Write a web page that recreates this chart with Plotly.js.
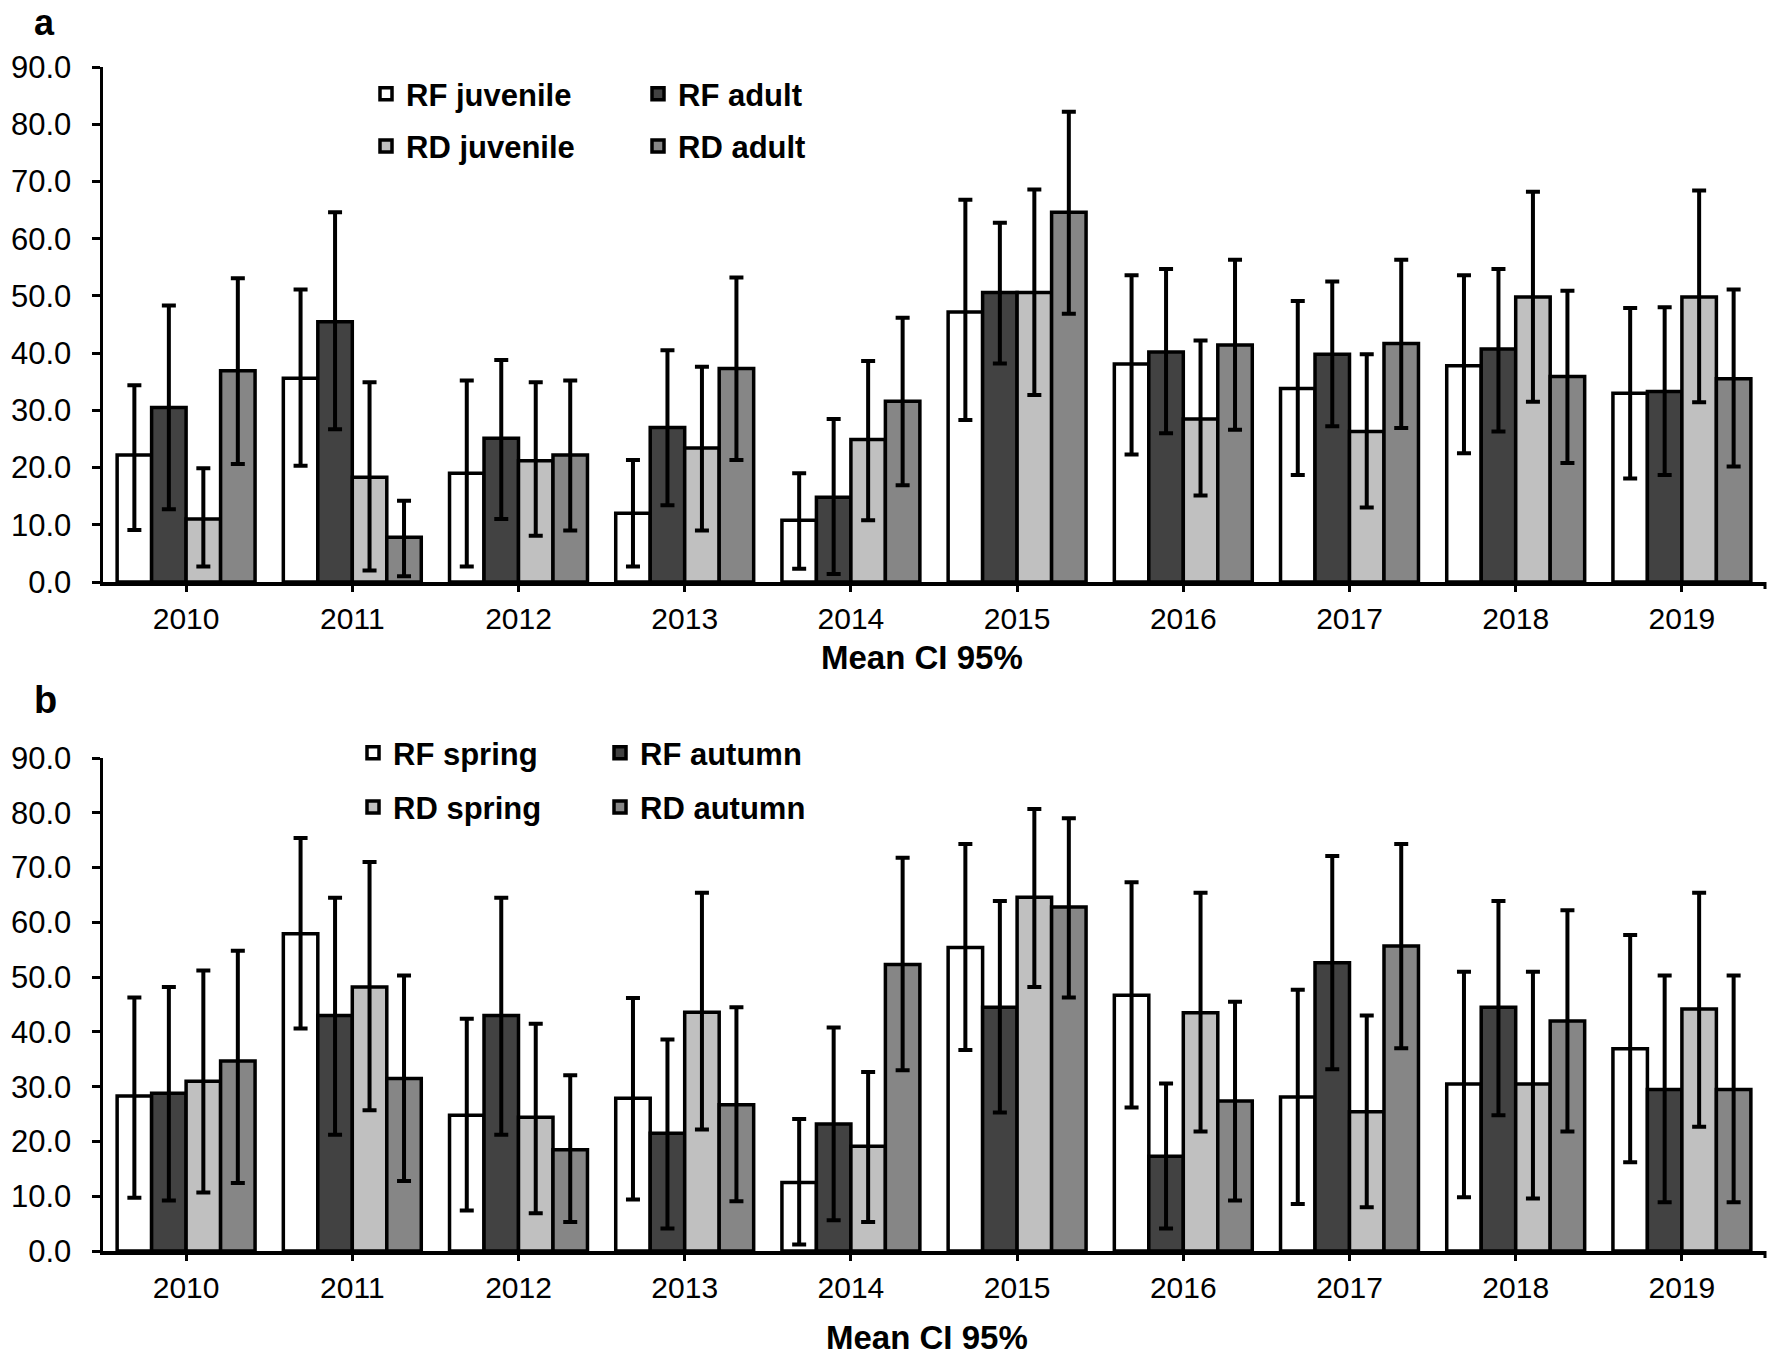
<!DOCTYPE html>
<html>
<head>
<meta charset="utf-8">
<script src="https://cdn.plot.ly/plotly-3.0.1.min.js"></script>
<style>html,body{margin:0;padding:0;background:#fff;}#chart{width:1772px;height:1358px;}</style>
</head>
<body>
<div id="chart"></div>
<script>
// ---------- data ----------
const years = ['2010','2011','2012','2013','2014','2015','2016','2017','2018','2019'];

// Panel a (age classes): mean and 95% CI bounds
const rfJuvMean  = [22.2, 35.6, 19.0, 12.0, 10.8, 47.2, 38.1, 33.8, 37.8, 33.0];
const rfJuvUp    = [34.4, 51.1, 35.2, 21.3, 19.0, 66.8, 53.6, 49.1, 53.6, 47.9];
const rfJuvLow   = [ 9.1, 20.3,  2.7,  2.7,  2.3, 28.3, 22.3, 18.7, 22.5, 18.1];

const rfAdMean   = [30.5, 45.5, 25.1, 27.0, 14.8, 50.6, 40.2, 39.8, 40.7, 33.3];
const rfAdUp     = [48.3, 64.6, 38.8, 40.5, 28.5, 62.8, 54.7, 52.5, 54.7, 48.0];
const rfAdLow    = [12.7, 26.7, 11.0, 13.4,  1.4, 38.2, 26.0, 27.2, 26.3, 18.7];

const rdJuvMean  = [11.0, 18.3, 21.2, 23.4, 24.9, 50.6, 28.5, 26.3, 49.8, 49.8];
const rdJuvUp    = [19.9, 34.9, 34.9, 37.6, 38.6, 68.6, 42.2, 39.8, 68.2, 68.4];
const rdJuvLow   = [ 2.7,  2.0,  8.1,  9.0, 10.8, 32.7, 15.1, 13.0, 31.5, 31.4];

const rdAdMean   = [36.9,  7.8, 22.2, 37.3, 31.6, 64.6, 41.4, 41.7, 35.9, 35.5];
const rdAdUp     = [53.1, 14.2, 35.2, 53.2, 46.2, 82.2, 56.3, 56.3, 50.9, 51.1];
const rdAdLow    = [20.6,  1.0,  9.0, 21.3, 16.9, 46.9, 26.6, 26.9, 20.8, 20.2];

// Panel b (seasons): mean and 95% CI bounds
const rfSprMean  = [28.3, 57.9, 24.8, 27.9, 12.5, 55.4, 46.7, 28.1, 30.5, 36.9];
const rfSprUp    = [46.3, 75.4, 42.4, 46.2, 24.1, 74.3, 67.3, 47.7, 51.0, 57.7];
const rfSprLow   = [ 9.7, 40.6,  7.4,  9.4,  1.2, 36.7, 26.2,  8.6,  9.8, 16.2];

const rfAutMean  = [28.8, 43.0, 43.0, 21.5, 23.2, 44.5, 17.3, 52.6, 44.5, 29.5];
const rfAutUp    = [48.2, 64.5, 64.5, 38.6, 40.8, 63.9, 30.6, 72.1, 63.9, 50.3];
const rfAutLow   = [ 9.2, 21.2, 21.2,  4.1,  5.6, 25.3,  4.1, 33.2, 24.8,  8.9];

const rdSprMean  = [31.0, 48.2, 24.4, 43.6, 19.1, 64.6, 43.5, 25.4, 30.5, 44.2];
const rdSprUp    = [51.2, 71.0, 41.5, 65.4, 32.7, 80.7, 65.4, 43.0, 51.0, 65.4];
const rdSprLow   = [10.7, 25.7,  6.9, 22.2,  5.3, 48.2, 21.8,  8.0,  9.6, 22.7];

const rdAutMean  = [34.7, 31.5, 18.5, 26.7, 52.3, 62.8, 27.4, 55.7, 42.0, 29.5];
const rdAutUp    = [54.8, 50.3, 32.1, 44.5, 71.8, 79.0, 45.5, 74.3, 62.2, 50.3];
const rdAutLow   = [12.4, 12.8,  5.3,  9.1, 33.0, 46.3,  9.2, 37.0, 21.8,  8.9];

const yTicks = [0, 10, 20, 30, 40, 50, 60, 70, 80, 90];

// ---------- styling ----------
const W = 1772, H = 1358;
const C_WHITE = '#ffffff', C_DARK = '#424242', C_LIGHT = '#c0c0c0', C_MID = '#868686';
const FONT = 'Arial, "Liberation Sans", Helvetica, sans-serif';

function bar(name, mean, up, low, color, xa, ya, leg) {
  return {
    type: 'bar', name: name, x: years, y: mean, xaxis: xa, yaxis: ya,
    legend: leg, legendgroup: name,
    marker: {color: color, line: {color: '#000', width: 3.5}},
    error_y: {
      type: 'data', symmetric: false,
      array: up.map((u, i) => u - mean[i]),
      arrayminus: mean.map((m, i) => m - low[i]),
      color: '#000', thickness: 4, width: 7
    },
    hoverinfo: 'skip'
  };
}

const data = [
  bar('RF juvenile', rfJuvMean, rfJuvUp, rfJuvLow, C_WHITE, 'x', 'y', 'legend'),
  bar('RF adult',    rfAdMean,  rfAdUp,  rfAdLow,  C_DARK,  'x', 'y', 'legend2'),
  bar('RD juvenile', rdJuvMean, rdJuvUp, rdJuvLow, C_LIGHT, 'x', 'y', 'legend'),
  bar('RD adult',    rdAdMean,  rdAdUp,  rdAdLow,  C_MID,   'x', 'y', 'legend2'),
  bar('RF spring',   rfSprMean, rfSprUp, rfSprLow, C_WHITE, 'x2', 'y2', 'legend3'),
  bar('RF autumn',   rfAutMean, rfAutUp, rfAutLow, C_DARK,  'x2', 'y2', 'legend4'),
  bar('RD spring',   rdSprMean, rdSprUp, rdSprLow, C_LIGHT, 'x2', 'y2', 'legend3'),
  bar('RD autumn',   rdAutMean, rdAutUp, rdAutLow, C_MID,   'x2', 'y2', 'legend4')
];

const px = v => v / W;
const py = v => 1 - v / H;

const xBase = {
  type: 'category', showline: true, linecolor: '#000', linewidth: 3.5,
  ticks: 'outside', ticklen: 6, tickwidth: 3, tickcolor: '#000',
  tickfont: {family: FONT, size: 30, color: '#000'},
  showgrid: false, zeroline: false, fixedrange: true, ticklabelstandoff: 1
};
const yBase = {
  range: [0, 90], tickvals: yTicks, tickformat: '.1f',
  showline: true, linecolor: '#000', linewidth: 3.5,
  ticks: 'outside', ticklen: 8, tickwidth: 3, tickcolor: '#000',
  tickfont: {family: FONT, size: 31, color: '#000'},
  showgrid: false, zeroline: false, fixedrange: true, ticklabelstandoff: 14
};
const legBase = {
  xanchor: 'left', yanchor: 'top', bgcolor: 'rgba(0,0,0,0)', borderwidth: 0,
  font: {family: FONT, size: 31, color: '#000', weight: 'bold'},
  itemclick: false, itemdoubleclick: false
};

const xDom = [px(103), px(1765)];

const layout = {
  width: W, height: H,
  margin: {l: 0, r: 0, t: 0, b: 0},
  paper_bgcolor: '#fff', plot_bgcolor: '#fff',
  font: {family: FONT, color: '#000'},
  barmode: 'group', bargap: 0.17, bargroupgap: 0,
  showlegend: true,
  xaxis:  Object.assign({}, xBase, {domain: xDom, anchor: 'y'}),
  yaxis:  Object.assign({}, yBase, {domain: [py(582), py(67)], anchor: 'x'}),
  xaxis2: Object.assign({}, xBase, {domain: xDom, anchor: 'y2'}),
  yaxis2: Object.assign({}, yBase, {domain: [py(1251), py(758)], anchor: 'x2'}),
  legend:  Object.assign({}, legBase, {x: px(366), y: py(67), tracegroupgap: 9}),
  legend2: Object.assign({}, legBase, {x: px(638), y: py(67), tracegroupgap: 9}),
  legend3: Object.assign({}, legBase, {x: px(353), y: py(726), tracegroupgap: 11}),
  legend4: Object.assign({}, legBase, {x: px(600), y: py(726), tracegroupgap: 11}),
  annotations: [
    {text: 'a', xref: 'paper', yref: 'paper', x: px(32), y: 1, xanchor: 'left', yanchor: 'top',
     showarrow: false, font: {family: FONT, size: 36, color: '#000', weight: 'bold'}},
    {text: 'b', xref: 'paper', yref: 'paper', x: px(32), y: py(700), xanchor: 'left', yanchor: 'middle',
     showarrow: false, font: {family: FONT, size: 38, color: '#000', weight: 'bold'}},
    {text: 'Mean CI 95%', xref: 'paper', yref: 'paper', x: px(922), y: py(657), xanchor: 'center', yanchor: 'middle',
     showarrow: false, font: {family: FONT, size: 33, color: '#000', weight: 'bold'}},
    {text: 'Mean CI 95%', xref: 'paper', yref: 'paper', x: px(927), y: py(1337), xanchor: 'center', yanchor: 'middle',
     showarrow: false, font: {family: FONT, size: 33, color: '#000', weight: 'bold'}}
  ],
  shapes: [
    {type: 'line', xref: 'paper', yref: 'paper', x0: px(1765), x1: px(1765), y0: py(582), y1: py(589),
     line: {color: '#000', width: 3}},
    {type: 'line', xref: 'paper', yref: 'paper', x0: px(1765), x1: px(1765), y0: py(1251), y1: py(1258),
     line: {color: '#000', width: 3}}
  ]
};

Plotly.newPlot('chart', data, layout, {staticPlot: true, displayModeBar: false});
</script>
</body>
</html>
